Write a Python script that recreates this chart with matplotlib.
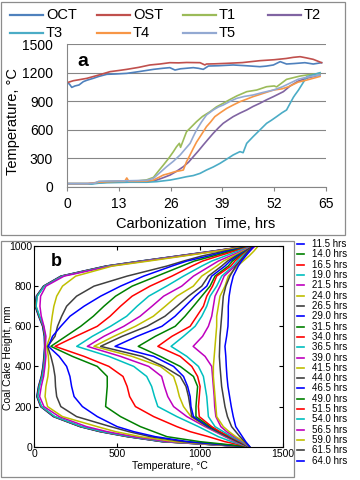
import matplotlib
matplotlib.use("Agg")
import matplotlib.pyplot as plt
from matplotlib.lines import Line2D
from matplotlib.patches import Rectangle

plt.rcParams['font.family'] = ['Liberation Sans', 'DejaVu Sans']

# ---------------- panel a: oven temperatures vs carbonization time ----------------
oct_t = [0, 0.6, 1.2, 2, 3, 4.1, 5, 6.6, 8, 10, 12, 15, 18, 21.7, 24, 25.8, 27.1, 28.5,
         31.7, 33, 34.2, 35.5, 38, 41.7, 45, 48.4, 50, 51.8, 53.5, 55.1, 57, 59.7, 61.8, 63.9]
oct_T = [1094, 1080, 1045, 1060, 1070, 1105, 1120, 1140, 1160, 1182, 1185, 1192, 1210, 1234,
         1245, 1252, 1227, 1240, 1252, 1245, 1234, 1269, 1272, 1280, 1272, 1262, 1268, 1280,
         1315, 1290, 1295, 1304, 1290, 1304]

ost_t = [0, 1.6, 3, 5, 8, 10.8, 13, 15, 18, 20.8, 23.3, 25.8, 28, 30, 33.4, 34.6, 35, 37,
         40, 44, 48.4, 52, 55, 56.8, 58.5, 60, 61.8, 63.9]
ost_T = [1094, 1115, 1125, 1140, 1175, 1210, 1222, 1234, 1255, 1280, 1290, 1304, 1302, 1306,
         1304, 1280, 1290, 1292, 1297, 1305, 1325, 1335, 1348, 1360, 1367, 1355, 1339, 1304]

t1_t = [0, 5, 6, 8, 10, 13, 15, 18, 20, 21.7, 23, 24.2, 25.5, 26.7, 27.5, 28.2, 28.5, 30,
        31.2, 32.5, 34, 35.9, 37.5, 39.2, 41, 42.6, 45.1, 47.6, 50.1, 52, 52.6, 55.1, 58.5, 61, 63.5]
t1_T = [35, 35, 30, 55, 58, 60, 62, 65, 75, 101, 170, 231, 300, 371, 423, 458, 416, 580,
        630, 685, 740, 790, 840, 878, 920, 955, 1000, 1017, 1052, 1060, 1050, 1129, 1164, 1180, 1192]

t2_t = [0, 5, 8, 10, 15, 20, 22.5, 24, 25.9, 27.5, 29.2, 30.5, 31.7, 33, 34.2, 35.5, 36.7,
        38, 39.2, 40.5, 41.7, 43.4, 45.1, 46.7, 48.4, 50.1, 51.8, 54.3, 56, 58, 60, 62, 63.5]
t2_T = [35, 35, 45, 50, 50, 55, 73, 95, 126, 165, 213, 260, 318, 380, 441, 505, 563,
        620, 668, 705, 738, 775, 808, 845, 878, 915, 948, 1000, 1060, 1110, 1140, 1160, 1175]

t3_t = [0, 5, 6, 8, 10, 15, 20, 22.5, 25.9, 28, 30, 31.7, 33.4, 35, 36.7, 38.4, 40, 41.7,
        43.4, 44.2, 45.1, 46.7, 48.4, 50.1, 51.3, 52.6, 54, 55.1, 56, 56.8, 57.2, 58.1, 60.2, 62, 63.5]
t3_T = [35, 35, 30, 40, 45, 50, 50, 56, 73, 90, 108, 120, 143, 178, 210, 248, 290, 336,
        371, 360, 458, 528, 598, 668, 700, 738, 780, 808, 878, 940, 965, 1017, 1157, 1180, 1199]

t4_t = [0, 5, 8, 10, 13, 14.5, 15, 15.5, 18, 20, 21.7, 23, 24.2, 25.5, 27.1, 28.3, 29.2, 30,
        30.8, 31.7, 32.5, 33.4, 34.2, 35, 36, 37.1, 38.5, 40.1, 41.7, 43.4, 45, 46.7, 48, 49.3,
        51.8, 54, 55.6, 58, 60, 63.5]
t4_T = [35, 35, 50, 55, 60, 60, 95, 60, 60, 62, 73, 100, 126, 140, 161, 170, 178, 266,
        330, 406, 470, 528, 580, 633, 680, 738, 780, 825, 860, 895, 920, 948, 965, 983,
        1017, 1030, 1052, 1100, 1120, 1160]

t5_t = [0, 5, 7, 8, 10, 15, 20, 21.7, 23.3, 25, 26.7, 28.4, 29.7, 30.9, 31.7, 32.5, 33.8,
        35, 36.7, 38, 39.2, 41, 42.6, 44.5, 46.7, 49, 51.8, 54, 56, 58, 60, 63.5]
t5_T = [35, 35, 40, 60, 62, 65, 70, 91, 150, 213, 270, 336, 400, 458, 530, 598, 685,
        755, 808, 840, 860, 900, 930, 950, 965, 990, 1017, 1050, 1090, 1130, 1150, 1175]

a_labels = ['OCT', 'OST', 'T1', 'T2', 'T3', 'T4', 'T5']
a_colors = ['#4F81BD', '#C0504D', '#9BBB59', '#8064A2', '#4BACC6', '#F79646', '#93A9D2']
a_series = [(oct_t, oct_T), (ost_t, ost_T), (t1_t, t1_T), (t2_t, t2_T),
            (t3_t, t3_T), (t4_t, t4_T), (t5_t, t5_T)]

# ---------------- panel b: temperature profiles across the coal cake ----------------
heights = [0, 25, 50, 75, 100, 150, 200, 250, 300, 350, 400, 450, 500,
           550, 600, 650, 700, 750, 800, 850, 900, 925, 950, 975, 1000]
b_labels = ['11.5 hrs', '14.0 hrs', '16.5 hrs', '19.0 hrs', '21.5 hrs', '24.0 hrs',
            '26.5 hrs', '29.0 hrs', '31.5 hrs', '34.0 hrs', '36.5 hrs', '39.0 hrs',
            '41.5 hrs', '44.0 hrs', '46.5 hrs', '49.0 hrs', '51.5 hrs', '54.0 hrs',
            '56.5 hrs', '59.0 hrs', '61.5 hrs', '64.0 hrs']
profiles = [
    [1275, 770, 560, 395, 275, 115, 38, 15, 25, 42, 52, 58, 62, 60, 50, 26, 5, 12, 55, 160, 430, 640, 860, 1080, 1285],
    [1277, 775, 565, 400, 278, 118, 40, 17, 27, 44, 54, 60, 64, 62, 52, 28, 7, 14, 57, 163, 435, 645, 865, 1085, 1287],
    [1280, 780, 570, 405, 282, 121, 42, 19, 29, 46, 56, 62, 66, 64, 54, 30, 9, 16, 59, 166, 440, 650, 870, 1090, 1290],
    [1282, 785, 575, 410, 286, 124, 44, 21, 31, 48, 58, 64, 68, 66, 56, 32, 11, 18, 61, 169, 445, 655, 875, 1095, 1292],
    [1284, 810, 600, 440, 315, 150, 58, 32, 42, 56, 64, 70, 66, 70, 58, 42, 34, 38, 70, 180, 460, 670, 885, 1100, 1295],
    [1286, 850, 640, 490, 380, 170, 80, 65, 70, 82, 88, 85, 75, 95, 100, 108, 118, 135, 170, 250, 470, 690, 900, 1110, 1300],
    [1288, 900, 700, 570, 460, 255, 160, 135, 128, 125, 115, 100, 80, 125, 140, 165, 195, 255, 360, 560, 800, 900, 1010, 1150, 1305],
    [1290, 930, 730, 600, 500, 380, 290, 240, 225, 215, 195, 150, 85, 110, 160, 215, 300, 400, 520, 660, 830, 920, 1050, 1170, 1305],
    [1290, 1000, 800, 720, 640, 520, 430, 435, 440, 440, 380, 230, 100, 190, 280, 356, 420, 490, 590, 740, 890, 965, 1080, 1190, 1305],
    [1292, 1150, 1050, 940, 860, 720, 610, 575, 560, 535, 450, 300, 125, 250, 380, 457, 520, 590, 698, 830, 950, 1015, 1110, 1210, 1310],
    [1292, 1190, 1110, 1050, 990, 860, 745, 725, 708, 678, 600, 450, 256, 350, 460, 557, 620, 690, 798, 900, 1010, 1070, 1150, 1230, 1315],
    [1294, 1210, 1150, 1090, 1030, 920, 840, 805, 785, 768, 690, 520, 320, 420, 540, 638, 710, 780, 889, 960, 1060, 1110, 1180, 1250, 1320],
    [1294, 1220, 1160, 1100, 1040, 945, 900, 875, 860, 840, 760, 590, 360, 480, 610, 718, 790, 860, 959, 1010, 1100, 1140, 1200, 1260, 1325],
    [1294, 1225, 1165, 1105, 1045, 950, 940, 930, 915, 880, 780, 650, 400, 530, 680, 788, 860, 930, 1010, 1050, 1130, 1165, 1215, 1270, 1325],
    [1294, 1230, 1170, 1110, 1050, 960, 945, 940, 925, 900, 840, 720, 487, 620, 770, 849, 910, 970, 1040, 1070, 1150, 1180, 1225, 1275, 1325],
    [1295, 1235, 1175, 1115, 1060, 975, 975, 980, 985, 960, 880, 760, 627, 730, 850, 909, 960, 1010, 1060, 1090, 1170, 1195, 1235, 1280, 1325],
    [1295, 1240, 1180, 1120, 1070, 995, 990, 995, 1000, 985, 950, 880, 745, 830, 940, 980, 1020, 1040, 1075, 1100, 1185, 1210, 1245, 1285, 1325],
    [1296, 1250, 1190, 1140, 1090, 1050, 1045, 1040, 1030, 1020, 990, 920, 825, 900, 970, 1010, 1040, 1060, 1100, 1130, 1200, 1225, 1255, 1290, 1328],
    [1297, 1260, 1205, 1160, 1125, 1095, 1088, 1085, 1080, 1075, 1070, 1030, 958, 1015, 1050, 1070, 1080, 1090, 1120, 1145, 1210, 1240, 1270, 1300, 1332],
    [1298, 1265, 1215, 1175, 1140, 1100, 1095, 1090, 1085, 1080, 1080, 1085, 1090, 1095, 1100, 1100, 1110, 1120, 1150, 1170, 1225, 1260, 1295, 1325, 1350],
    [1298, 1270, 1240, 1215, 1190, 1165, 1150, 1140, 1130, 1125, 1120, 1116, 1118, 1120, 1125, 1130, 1135, 1140, 1155, 1180, 1215, 1240, 1265, 1290, 1320],
    [1300, 1275, 1255, 1235, 1215, 1200, 1188, 1178, 1168, 1162, 1158, 1155, 1150, 1160, 1168, 1170, 1170, 1175, 1185, 1200, 1230, 1250, 1275, 1300, 1325],
]
matlab_cycle = ['#0000FF', '#008000', '#FF0000', '#00BFBF', '#BF00BF', '#BFBF00', '#404040']

W, H = 360, 480


def fx(px):
    return px / W


def fy(py):
    return 1 - py / H


fig = plt.figure(figsize=(W / 100, H / 100), dpi=100)
fig.patch.set_facecolor('white')

# outer frames of the two panels
for x0, y0, x1, y1 in [(1, 2, 345, 235), (1, 241, 294, 477)]:
    fig.add_artist(Rectangle((fx(x0), fy(y1)), fx(x1) - fx(x0), fy(y0) - fy(y1),
                             transform=fig.transFigure, fill=False,
                             edgecolor='#8c8c8c', lw=0.9))

# ---- panel a ----
axa = fig.add_axes([fx(67), fy(187), fx(326) - fx(67), fy(44) - fy(187)])
for (tt, TT), c in zip(a_series, a_colors):
    axa.plot(tt, TT, color=c, lw=1.2)
axa.set_xlim(0, 65)
axa.set_ylim(0, 1500)
axa.set_xticks(range(0, 66, 13))
axa.set_yticks(range(0, 1501, 300))
axa.yaxis.grid(True, color='#868686', lw=0.8)
axa.set_axisbelow(True)
for s in ['top', 'right']:
    axa.spines[s].set_visible(False)
for s in ['left', 'bottom']:
    axa.spines[s].set_color('#868686')
    axa.spines[s].set_linewidth(0.8)
axa.tick_params(axis='x', direction='out', length=3, color='#868686', labelsize=10, pad=4)
axa.tick_params(axis='y', length=0, labelsize=10, pad=10)
fig.text(fx(196), fy(224), 'Carbonization  Time, hrs', ha='center', va='center', fontsize=10.5)
fig.text(fx(13), fy(122), 'Temperature, \u00b0C', ha='center', va='center',
         rotation=90, fontsize=10.5)
fig.text(fx(83), fy(62), 'a', ha='center', va='center', fontsize=14, fontweight='bold')

# legend of panel a (Excel style, fixed column pitch)
col_x = [10, 97, 183, 268]
row_y = [15, 33]
for i, (lab, c) in enumerate(zip(a_labels, a_colors)):
    x0 = col_x[i % 4]
    y0 = row_y[i // 4]
    fig.add_artist(Line2D([fx(x0), fx(x0 + 33)], [fy(y0), fy(y0)],
                          transform=fig.transFigure, color=c, lw=1.6))
    fig.text(fx(x0 + 36), fy(y0), lab, ha='left', va='center', fontsize=10.5)

# ---- panel b ----
axb = fig.add_axes([fx(34.3), fy(446.7), fx(283) - fx(34.3), fy(246) - fy(446.7)])
for i, prof in enumerate(profiles):
    axb.plot(prof, heights, color=matlab_cycle[i % 7], lw=1.1)
axb.set_xlim(0, 1500)
axb.set_ylim(0, 1000)
axb.set_xticks([0, 500, 1000, 1500])
axb.set_yticks(range(0, 1001, 200))
for s in axb.spines.values():
    s.set_color('black')
    s.set_linewidth(0.8)
axb.tick_params(direction='in', length=3, top=True, right=True, labelsize=7.5, pad=1.5)
fig.text(fx(170), fy(466), 'Temperature, \u00b0C', ha='center', va='center', fontsize=7.5)
fig.text(fx(8), fy(358), 'Coal Cake Height, mm', ha='center', va='center',
         rotation=90, fontsize=7.5)
fig.text(fx(56), fy(261), 'b', ha='center', va='center', fontsize=13, fontweight='bold')

# legend of panel b
for i, lab in enumerate(b_labels):
    y0 = 244 + i * 10.32
    fig.add_artist(Line2D([fx(297), fx(304)], [fy(y0), fy(y0)],
                          transform=fig.transFigure, color=matlab_cycle[i % 7], lw=1.2))
    fig.text(fx(312), fy(y0), lab, ha='left', va='center', fontsize=7)

fig.savefig('out.png', dpi=100)
